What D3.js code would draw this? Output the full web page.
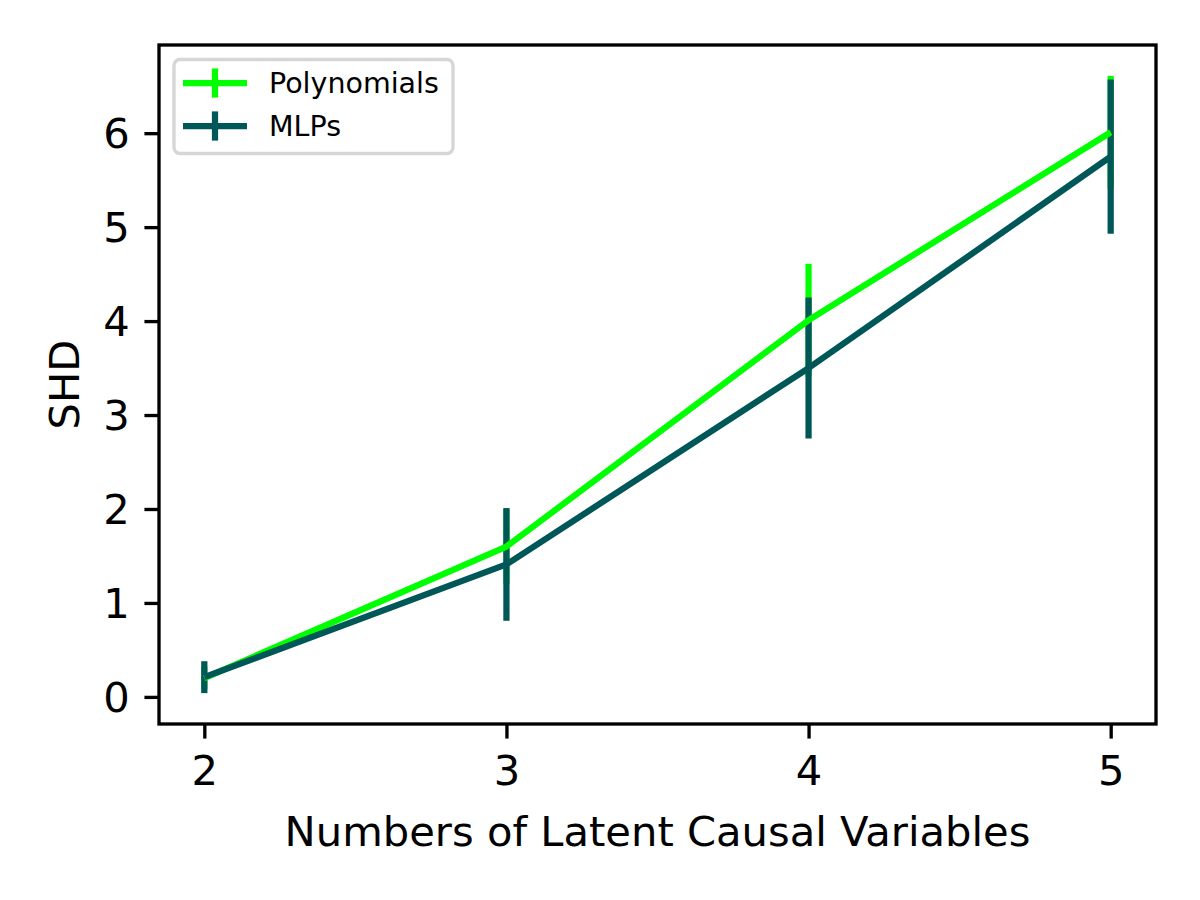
<!DOCTYPE html>
<html>
<head>
<meta charset="utf-8">
<script src="https://cdn.jsdelivr.net/npm/d3@7"></script>
<style>
  html, body { margin: 0; padding: 0; background: #ffffff; }
  svg { display: block; }
  text { font-family: "DejaVu Sans", sans-serif; fill: #000; }
</style>
</head>
<body>
<svg id="chart" width="1200" height="900"></svg>
<script>
// ---- data ----
const xValues = [2, 3, 4, 5];
const xTickLabels = ["2", "3", "4", "5"];
const yTicks = [0, 1, 2, 3, 4, 5, 6];
const seriesNames = ["Polynomials", "MLPs"];
const seriesColors = ["#00ff00", "#005757"];
const polyMean = [0.20, 1.60, 4.01, 6.01];
const polyErr  = [0.12, 0.40, 0.60, 0.60];
const mlpMean  = [0.21, 1.41, 3.50, 5.75];
const mlpErr   = [0.17, 0.60, 0.75, 0.82];
const xLabel = "Numbers of Latent Causal Variables";
const yLabel = "SHD";

const series = [
  { name: seriesNames[0], color: seriesColors[0], mean: polyMean, err: polyErr },
  { name: seriesNames[1], color: seriesColors[1], mean: mlpMean, err: mlpErr }
];

// ---- layout ----
const pLeft = 159, pRight = 1156, pTop = 45, pBottom = 724;
const dpiScale = 300 / 72;
const fontPx = 10 * dpiScale;
const lineW = 1.5 * dpiScale;
const spineW = 0.8 * dpiScale;
const tickLen = 3.5 * dpiScale;
const tickPad = 3.5 * dpiScale;

const svg = d3.select("#chart");

// domains with matplotlib-style 5% margins
const xmin = d3.min(xValues), xmax = d3.max(xValues);
const xm = (xmax - xmin) * 0.05;
let ylo = Infinity, yhi = -Infinity;
series.forEach(s => s.mean.forEach((m, i) => {
  ylo = Math.min(ylo, m - s.err[i]);
  yhi = Math.max(yhi, m + s.err[i]);
}));
const ym = (yhi - ylo) * 0.05;

const x = d3.scaleLinear().domain([xmin - xm, xmax + xm]).range([pLeft, pRight]);
const y = d3.scaleLinear().domain([ylo - ym, yhi + ym]).range([pBottom, pTop]);

// axes
const xAxis = d3.axisBottom(x).tickValues(xValues)
  .tickFormat((d, i) => xTickLabels[i]).tickSize(tickLen).tickPadding(tickPad);
const yAxis = d3.axisLeft(y).tickValues(yTicks)
  .tickFormat(d3.format("d")).tickSize(tickLen).tickPadding(tickPad);

const gx = svg.append("g").attr("transform", `translate(0,${pBottom})`).call(xAxis);
const gy = svg.append("g").attr("transform", `translate(${pLeft},0)`).call(yAxis);
[gx, gy].forEach(g => {
  g.select(".domain").remove();
  g.selectAll(".tick line").attr("stroke", "#000").attr("stroke-width", spineW);
  g.selectAll(".tick text").style("font-family", "DejaVu Sans")
    .style("font-size", fontPx + "px").attr("fill", "#000");
});
gy.selectAll(".tick text").attr("dy", "0.35em");
gx.selectAll(".tick text").attr("dy", "0.76em");

// plot clip
svg.append("clipPath").attr("id", "clip").append("rect")
  .attr("x", pLeft).attr("y", pTop).attr("width", pRight - pLeft).attr("height", pBottom - pTop);
const plot = svg.append("g").attr("clip-path", "url(#clip)");

// error bars first (lower zorder), then lines
series.forEach(s => {
  plot.append("g").selectAll("line").data(xValues).join("line")
    .attr("x1", d => x(d)).attr("x2", d => x(d))
    .attr("y1", (d, i) => y(s.mean[i] - s.err[i]))
    .attr("y2", (d, i) => y(s.mean[i] + s.err[i]))
    .attr("stroke", s.color).attr("stroke-width", lineW);
});
const line = d3.line().x(d => x(d[0])).y(d => y(d[1]));
series.forEach(s => {
  plot.append("path").datum(xValues.map((d, i) => [d, s.mean[i]]))
    .attr("d", line).attr("fill", "none").attr("stroke", s.color)
    .attr("stroke-width", lineW).attr("stroke-linejoin", "round").attr("stroke-linecap", "butt");
});

// frame
svg.append("rect").attr("x", pLeft).attr("y", pTop)
  .attr("width", pRight - pLeft).attr("height", pBottom - pTop)
  .attr("fill", "none").attr("stroke", "#000").attr("stroke-width", spineW);

// axis labels
svg.append("text").attr("x", (pLeft + pRight) / 2).attr("y", 846)
  .attr("text-anchor", "middle").style("font-size", fontPx + "px").text(xLabel);
svg.append("text").attr("transform", `translate(79,${(pTop + pBottom) / 2}) rotate(-90)`)
  .attr("text-anchor", "middle").style("font-size", fontPx + "px").text(yLabel);

// legend
const lg = svg.append("g");
lg.append("rect").attr("x", 174).attr("y", 59.5).attr("width", 279).attr("height", 94)
  .attr("rx", 6).attr("fill", "#fff").attr("fill-opacity", 0.8)
  .attr("stroke", "#d6d6d6").attr("stroke-width", spineW);
const rowY = [83, 126];
series.forEach((s, i) => {
  const g = lg.append("g");
  g.append("line").attr("x1", 183).attr("x2", 247).attr("y1", rowY[i]).attr("y2", rowY[i])
    .attr("stroke", s.color).attr("stroke-width", lineW);
  g.append("line").attr("x1", 215).attr("x2", 215).attr("y1", rowY[i] - 14.6).attr("y2", rowY[i] + 14.6)
    .attr("stroke", s.color).attr("stroke-width", lineW);
  g.append("text").attr("x", 269).attr("y", rowY[i]).attr("dy", "0.35em")
    .style("font-size", "28.5px").text(s.name);
});
</script>
</body>
</html>
